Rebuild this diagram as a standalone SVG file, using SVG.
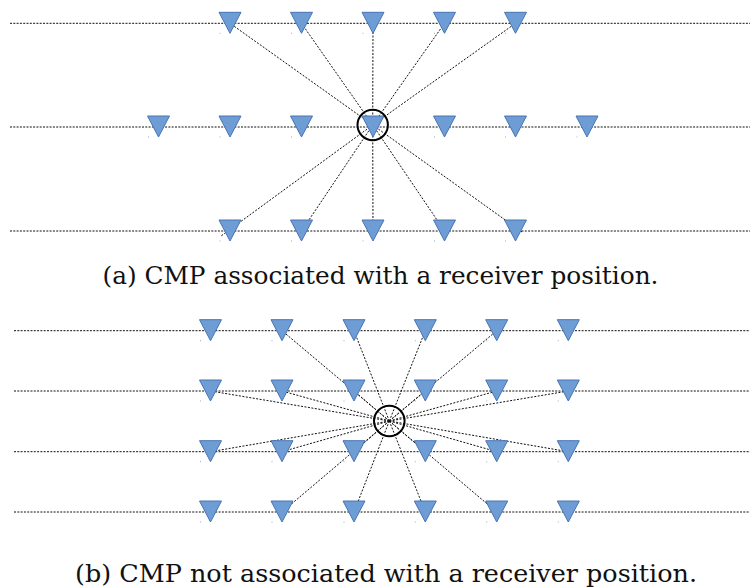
<svg xmlns="http://www.w3.org/2000/svg" width="750" height="588" viewBox="0 0 750 588">
  <style>
    .line { stroke: #111; stroke-width: 1; stroke-dasharray: 2 1.3; fill: none; }
    .ray { stroke: #111; stroke-width: 1; stroke-dasharray: 2 1.5; fill: none; }
    .rx { fill: #6e9dd5; stroke: #4874b2; stroke-width: 1; stroke-linejoin: miter; }
    .dot { fill: #8fb0dc; }
    .cmp { fill: none; stroke: #000; stroke-width: 2; }
    .cap { font-family: "DejaVu Serif", "Liberation Serif", serif; font-size: 25px; fill: #111; }
  </style>
  <defs>
    <!-- receiver glyph: inverted triangle centred on its line position -->
    <g id="rcv">
      <path class="rx" d="M-11,-11 L11,-11 L0,10 Z"/>
      <rect class="dot" x="-10.5" y="9.5" width="1" height="1"/>
    </g>
  </defs>

  <!-- ===== (a) receiver lines ===== -->
  <g id="a-lines">
    <line class="line" x1="10" y1="23.3" x2="750" y2="23.3"/>
    <line class="line" x1="10" y1="127" x2="750" y2="127"/>
    <line class="line" x1="10" y1="231" x2="750" y2="231"/>
  </g>

  <!-- (a) rays from the CMP to its receivers -->
  <g id="a-connectors">
    <line class="ray" x1="372.7" y1="125" x2="230" y2="23.3"/>
    <line class="ray" x1="372.7" y1="125" x2="301.5" y2="23.3"/>
    <line class="ray" x1="372.7" y1="125" x2="373" y2="23.3"/>
    <line class="ray" x1="372.7" y1="125" x2="444.5" y2="23.3"/>
    <line class="ray" x1="372.7" y1="125" x2="515.5" y2="23.3"/>
    <line class="ray" x1="372.7" y1="125" x2="221" y2="236"/>
    <line class="ray" x1="372.7" y1="125" x2="301.5" y2="231"/>
    <line class="ray" x1="372.7" y1="125" x2="373" y2="231"/>
    <line class="ray" x1="372.7" y1="125" x2="444.5" y2="231"/>
    <line class="ray" x1="372.7" y1="125" x2="522" y2="232"/>
  </g>

  <!-- (a) receivers -->
  <g id="a-r1-1"><use href="#rcv" x="230" y="23.3"/></g>
  <g id="a-r1-2"><use href="#rcv" x="301.5" y="23.3"/></g>
  <g id="a-r1-3"><use href="#rcv" x="373" y="23.3"/></g>
  <g id="a-r1-4"><use href="#rcv" x="444.5" y="23.3"/></g>
  <g id="a-r1-5"><use href="#rcv" x="515.5" y="23.3"/></g>

  <g id="a-r2-0"><use href="#rcv" x="158.5" y="127"/></g>
  <g id="a-r2-1"><use href="#rcv" x="230" y="127"/></g>
  <g id="a-r2-2"><use href="#rcv" x="301.5" y="127"/></g>
  <g id="a-r2-3"><use href="#rcv" x="373" y="127"/></g>
  <g id="a-r2-4"><use href="#rcv" x="444.5" y="127"/></g>
  <g id="a-r2-5"><use href="#rcv" x="515.5" y="127"/></g>
  <g id="a-r2-6"><use href="#rcv" x="587" y="127"/></g>

  <g id="a-r3-1"><use href="#rcv" x="230" y="231"/></g>
  <g id="a-r3-2"><use href="#rcv" x="301.5" y="231"/></g>
  <g id="a-r3-3"><use href="#rcv" x="373" y="231"/></g>
  <g id="a-r3-4"><use href="#rcv" x="444.5" y="231"/></g>
  <g id="a-r3-5"><use href="#rcv" x="515.5" y="231"/></g>

  <!-- (a) common mid-point -->
  <g id="a-cmp"><circle class="cmp" cx="372.7" cy="125" r="15.2"/></g>

  <text class="cap" x="102.5" y="284" textLength="556" lengthAdjust="spacingAndGlyphs">(a) CMP associated with a receiver position.</text>

  <!-- ===== (b) receiver lines ===== -->
  <g id="b-lines">
    <line class="line" x1="14" y1="330.7" x2="750" y2="330.7"/>
    <line class="line" x1="14" y1="391" x2="750" y2="391"/>
    <line class="line" x1="14" y1="451.7" x2="750" y2="451.7"/>
    <line class="line" x1="14" y1="512" x2="750" y2="512"/>
  </g>

  <!-- (b) rays from the CMP to its receivers -->
  <g id="b-connectors">
    <line class="ray" x1="389.3" y1="421" x2="282" y2="330.7"/>
    <line class="ray" x1="389.3" y1="421" x2="354" y2="330.7"/>
    <line class="ray" x1="389.3" y1="421" x2="425.3" y2="330.7"/>
    <line class="ray" x1="389.3" y1="421" x2="496.7" y2="330.7"/>

    <line class="ray" x1="389.3" y1="421" x2="210.5" y2="391"/>
    <line class="ray" x1="389.3" y1="421" x2="282" y2="391"/>
    <line class="ray" x1="389.3" y1="421" x2="354" y2="391"/>
    <line class="ray" x1="389.3" y1="421" x2="425.3" y2="391"/>
    <line class="ray" x1="389.3" y1="421" x2="496.7" y2="391"/>
    <line class="ray" x1="389.3" y1="421" x2="568.3" y2="391"/>

    <line class="ray" x1="389.3" y1="421" x2="210.5" y2="451.7"/>
    <line class="ray" x1="389.3" y1="421" x2="282" y2="451.7"/>
    <line class="ray" x1="389.3" y1="421" x2="354" y2="451.7"/>
    <line class="ray" x1="389.3" y1="421" x2="425.3" y2="451.7"/>
    <line class="ray" x1="389.3" y1="421" x2="496.7" y2="451.7"/>
    <line class="ray" x1="389.3" y1="421" x2="568.3" y2="451.7"/>

    <line class="ray" x1="389.3" y1="421" x2="282" y2="512"/>
    <line class="ray" x1="389.3" y1="421" x2="354" y2="512"/>
    <line class="ray" x1="389.3" y1="421" x2="425.3" y2="512"/>
    <line class="ray" x1="389.3" y1="421" x2="496.7" y2="512"/>
  </g>

  <!-- (b) receivers -->
  <g id="b-r1-1"><use href="#rcv" x="210.5" y="330.7"/></g>
  <g id="b-r1-2"><use href="#rcv" x="282" y="330.7"/></g>
  <g id="b-r1-3"><use href="#rcv" x="354" y="330.7"/></g>
  <g id="b-r1-4"><use href="#rcv" x="425.3" y="330.7"/></g>
  <g id="b-r1-5"><use href="#rcv" x="496.7" y="330.7"/></g>
  <g id="b-r1-6"><use href="#rcv" x="568.3" y="330.7"/></g>

  <g id="b-r2-1"><use href="#rcv" x="210.5" y="391"/></g>
  <g id="b-r2-2"><use href="#rcv" x="282" y="391"/></g>
  <g id="b-r2-3"><use href="#rcv" x="354" y="391"/></g>
  <g id="b-r2-4"><use href="#rcv" x="425.3" y="391"/></g>
  <g id="b-r2-5"><use href="#rcv" x="496.7" y="391"/></g>
  <g id="b-r2-6"><use href="#rcv" x="568.3" y="391"/></g>

  <g id="b-r3-1"><use href="#rcv" x="210.5" y="451.7"/></g>
  <g id="b-r3-2"><use href="#rcv" x="282" y="451.7"/></g>
  <g id="b-r3-3"><use href="#rcv" x="354" y="451.7"/></g>
  <g id="b-r3-4"><use href="#rcv" x="425.3" y="451.7"/></g>
  <g id="b-r3-5"><use href="#rcv" x="496.7" y="451.7"/></g>
  <g id="b-r3-6"><use href="#rcv" x="568.3" y="451.7"/></g>

  <g id="b-r4-1"><use href="#rcv" x="210.5" y="512"/></g>
  <g id="b-r4-2"><use href="#rcv" x="282" y="512"/></g>
  <g id="b-r4-3"><use href="#rcv" x="354" y="512"/></g>
  <g id="b-r4-4"><use href="#rcv" x="425.3" y="512"/></g>
  <g id="b-r4-5"><use href="#rcv" x="496.7" y="512"/></g>
  <g id="b-r4-6"><use href="#rcv" x="568.3" y="512"/></g>

  <!-- (b) common mid-point -->
  <g id="b-cmp"><circle class="cmp" cx="389.3" cy="421" r="15.3"/></g>

  <text class="cap" x="75" y="582" textLength="622" lengthAdjust="spacingAndGlyphs">(b) CMP not associated with a receiver position.</text>
</svg>
